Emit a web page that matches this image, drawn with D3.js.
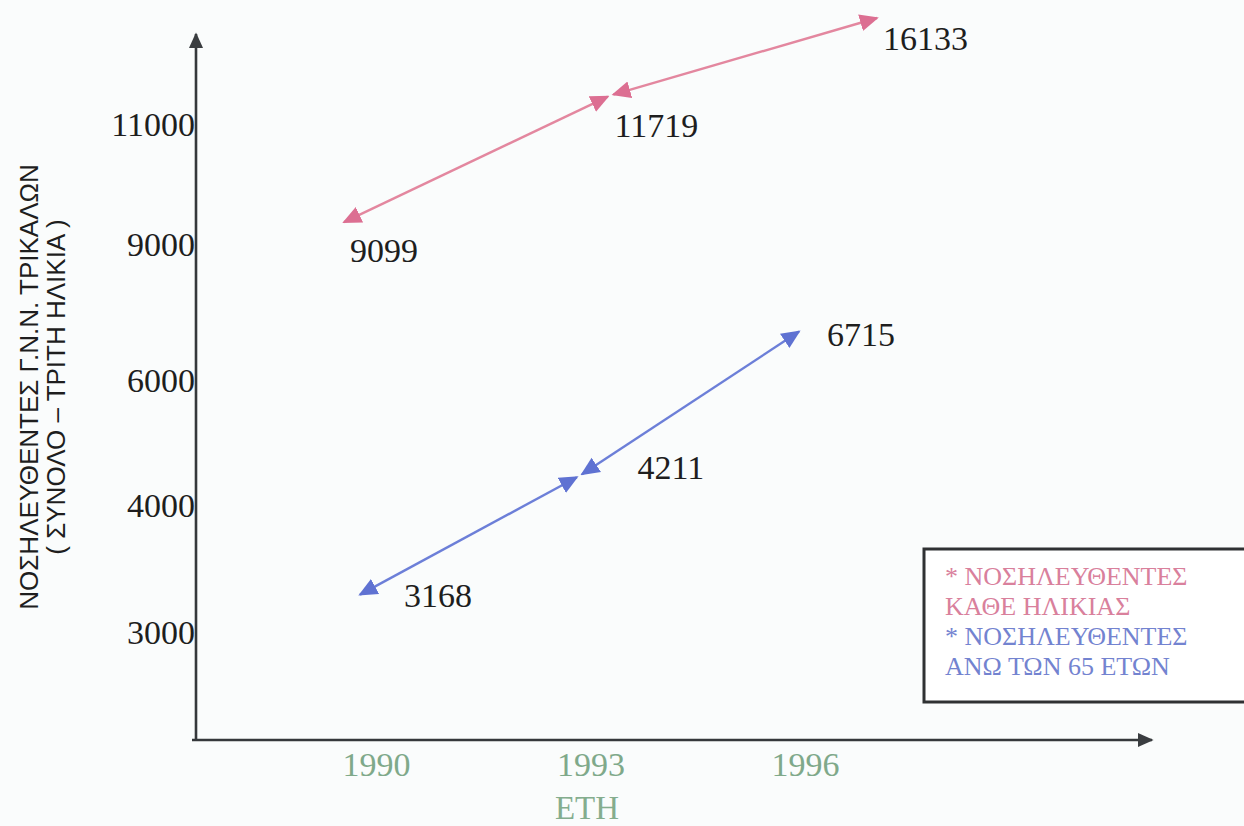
<!DOCTYPE html>
<html>
<head>
<meta charset="utf-8">
<script src="https://cdn.jsdelivr.net/npm/d3@7/dist/d3.min.js"></script>
<style>
  html, body { margin: 0; padding: 0; background: #fafcfc; }
  svg { display: block; }
</style>
</head>
<body>
<svg id="chart" width="1244" height="826"></svg>
<script>
// Hospital admissions, General Hospital of Trikala
const years = [1990, 1993, 1996];
const allAges = [9099, 11719, 16133];   // all ages
const over65 = [3168, 4211, 6715];      // over 65 years
const yTicks = [3000, 4000, 6000, 9000, 11000];
const legendAll = ["* ΝΟΣΗΛΕΥΘΕΝΤΕΣ", "ΚΑΘΕ ΗΛΙΚΙΑΣ"];
const legendOld = ["* ΝΟΣΗΛΕΥΘΕΝΤΕΣ", "ΑΝΩ ΤΩΝ 65 ΕΤΩΝ"];
const yTitle = ["ΝΟΣΗΛΕΥΘΕΝΤΕΣ Γ.Ν.Ν. ΤΡΙΚΑΛΩΝ", "( ΣΥΝΟΛΟ – ΤΡΙΤΗ ΗΛΙΚΙΑ )"];
const xTitle = "ΕΤΗ";

const svg = d3.select("#chart");
const serif = "'Liberation Serif', 'Times New Roman', serif";
const sans = "'Liberation Sans', Arial, sans-serif";

const axisX0 = 196, axisY0 = 740;
const labelDrop = 16;

// Piecewise vertical scale: evenly spaced ticks, stretched top segment
const y = d3.scaleLinear()
  .domain([...yTicks, d3.max(allAges)])
  .range([616, 489, 364, 228, 108, 18]);

const xYears = d3.scaleLinear().domain([1990, 1996]).range([376, 805]);
const xAll = d3.scaleLinear().domain([1990, 1996]).range([344, 877]);
const xOld = d3.scaleLinear().domain([1990, 1996]).range([360, 799]);

// arrowheads
const defs = svg.append("defs");
function arrow(id, color, size) {
  defs.append("marker")
    .attr("id", id)
    .attr("viewBox", "0 0 10 10")
    .attr("refX", 9).attr("refY", 5)
    .attr("markerUnits", "userSpaceOnUse")
    .attr("markerWidth", size).attr("markerHeight", size)
    .attr("orient", "auto-start-reverse")
    .append("path")
    .attr("d", "M0,0.5 L10,5 L0,9.5 Z")
    .attr("fill", color);
}
arrow("arPink", "#dc6f92", 19);
arrow("arBlue", "#5f72d2", 19);
arrow("arAxis", "#3a3d40", 16);

// axes lines
svg.append("line")
  .attr("x1", axisX0).attr("y1", axisY0 + 1)
  .attr("x2", axisX0).attr("y2", 34)
  .attr("stroke", "#35383b").attr("stroke-width", 2.6)
  .attr("marker-end", "url(#arAxis)");
svg.append("line")
  .attr("x1", axisX0 - 4).attr("y1", axisY0)
  .attr("x2", 1152).attr("y2", axisY0)
  .attr("stroke", "#35383b").attr("stroke-width", 2.6)
  .attr("marker-end", "url(#arAxis)");

// y tick labels
const gy = svg.append("g")
  .attr("transform", `translate(${axisX0 - 1},0)`)
  .call(d3.axisLeft(y).tickValues(yTicks).tickSize(0).tickPadding(0).tickFormat(d3.format("d")));
gy.select(".domain").remove();
gy.selectAll("text")
  .attr("y", labelDrop)
  .attr("dy", "0.33em")
  .attr("fill", "#1e1e1e")
  .style("font-family", serif)
  .style("font-size", "34px");

// x tick labels
const gx = svg.append("g")
  .attr("transform", `translate(0,${axisY0})`)
  .call(d3.axisBottom(xYears).tickValues(years).tickSize(0).tickPadding(0).tickFormat(d3.format("d")));
gx.select(".domain").remove();
gx.selectAll("text")
  .attr("y", 25)
  .attr("dy", "0.33em")
  .attr("fill", "#7fa98a")
  .style("font-family", serif)
  .style("font-size", "34px");

svg.append("text")
  .attr("x", 587).attr("y", 807).attr("dy", "0.35em")
  .attr("text-anchor", "middle")
  .attr("fill", "#84ad8e")
  .style("font-family", serif).style("font-size", "33px")
  .text(xTitle);

// y title
const yt = svg.append("text")
  .attr("transform", "translate(0,387) rotate(-90)")
  .attr("text-anchor", "middle")
  .attr("fill", "#1e1e1e")
  .style("font-family", sans).style("font-size", "26px");
yt.append("tspan").attr("x", 0).attr("y", 38).text(yTitle[0]);
yt.append("tspan").attr("x", 0).attr("y", 65).text(yTitle[1]);

// two-part double-headed arrows with a small break at the middle year
function series(values, xs, color, marker, gap) {
  const pts = values.map((v, i) => [xs(years[i]), y(v)]);
  const g = svg.append("g");
  for (let i = 0; i < pts.length - 1; i++) {
    let [x1, y1] = pts[i], [x2, y2] = pts[i + 1];
    const len = Math.hypot(x2 - x1, y2 - y1);
    const ux = (x2 - x1) / len, uy = (y2 - y1) / len;
    if (i > 0) { x1 += ux * gap; y1 += uy * gap; }
    if (i < pts.length - 2) { x2 -= ux * gap; y2 -= uy * gap; }
    g.append("line")
      .attr("x1", x1).attr("y1", y1).attr("x2", x2).attr("y2", y2)
      .attr("stroke", color).attr("stroke-width", 2.4)
      .attr("marker-start", `url(#${marker})`)
      .attr("marker-end", `url(#${marker})`);
  }
  return pts;
}
const ptsAll = series(allAges, xAll, "#e3879f", "arPink", 3);
const ptsOld = series(over65, xOld, "#6c7fd8", "arBlue", 3);

// value labels
function valueLabels(values, pts, dx, dy) {
  svg.append("g").selectAll("text").data(values).join("text")
    .attr("x", (d, i) => pts[i][0] + dx[i])
    .attr("y", (d, i) => pts[i][1] + dy[i])
    .attr("dy", "0.35em")
    .attr("fill", "#1e1e1e")
    .style("font-family", serif).style("font-size", "34px")
    .text(d => d);
}
valueLabels(allAges, ptsAll, [6, 4, 6], [28, 30, 20]);
valueLabels(over65, ptsOld, [44, 58, 28], [0, -9, 3]);

// legend
const lg = svg.append("g");
lg.append("rect")
  .attr("x", 924).attr("y", 549).attr("width", 330).attr("height", 153)
  .attr("fill", "#ffffff").attr("stroke", "#2f3133").attr("stroke-width", 3);
const lines = [
  [legendAll[0], "#d9809c"], [legendAll[1], "#d9809c"],
  [legendOld[0], "#7383d0"], [legendOld[1], "#7383d0"]
];
lg.selectAll("text").data(lines).join("text")
  .attr("x", 945)
  .attr("y", (d, i) => 576 + i * 30)
  .attr("dy", "0.35em")
  .attr("fill", d => d[1])
  .style("font-family", serif).style("font-size", "26px")
  .text(d => d[0]);
</script>
</body>
</html>
